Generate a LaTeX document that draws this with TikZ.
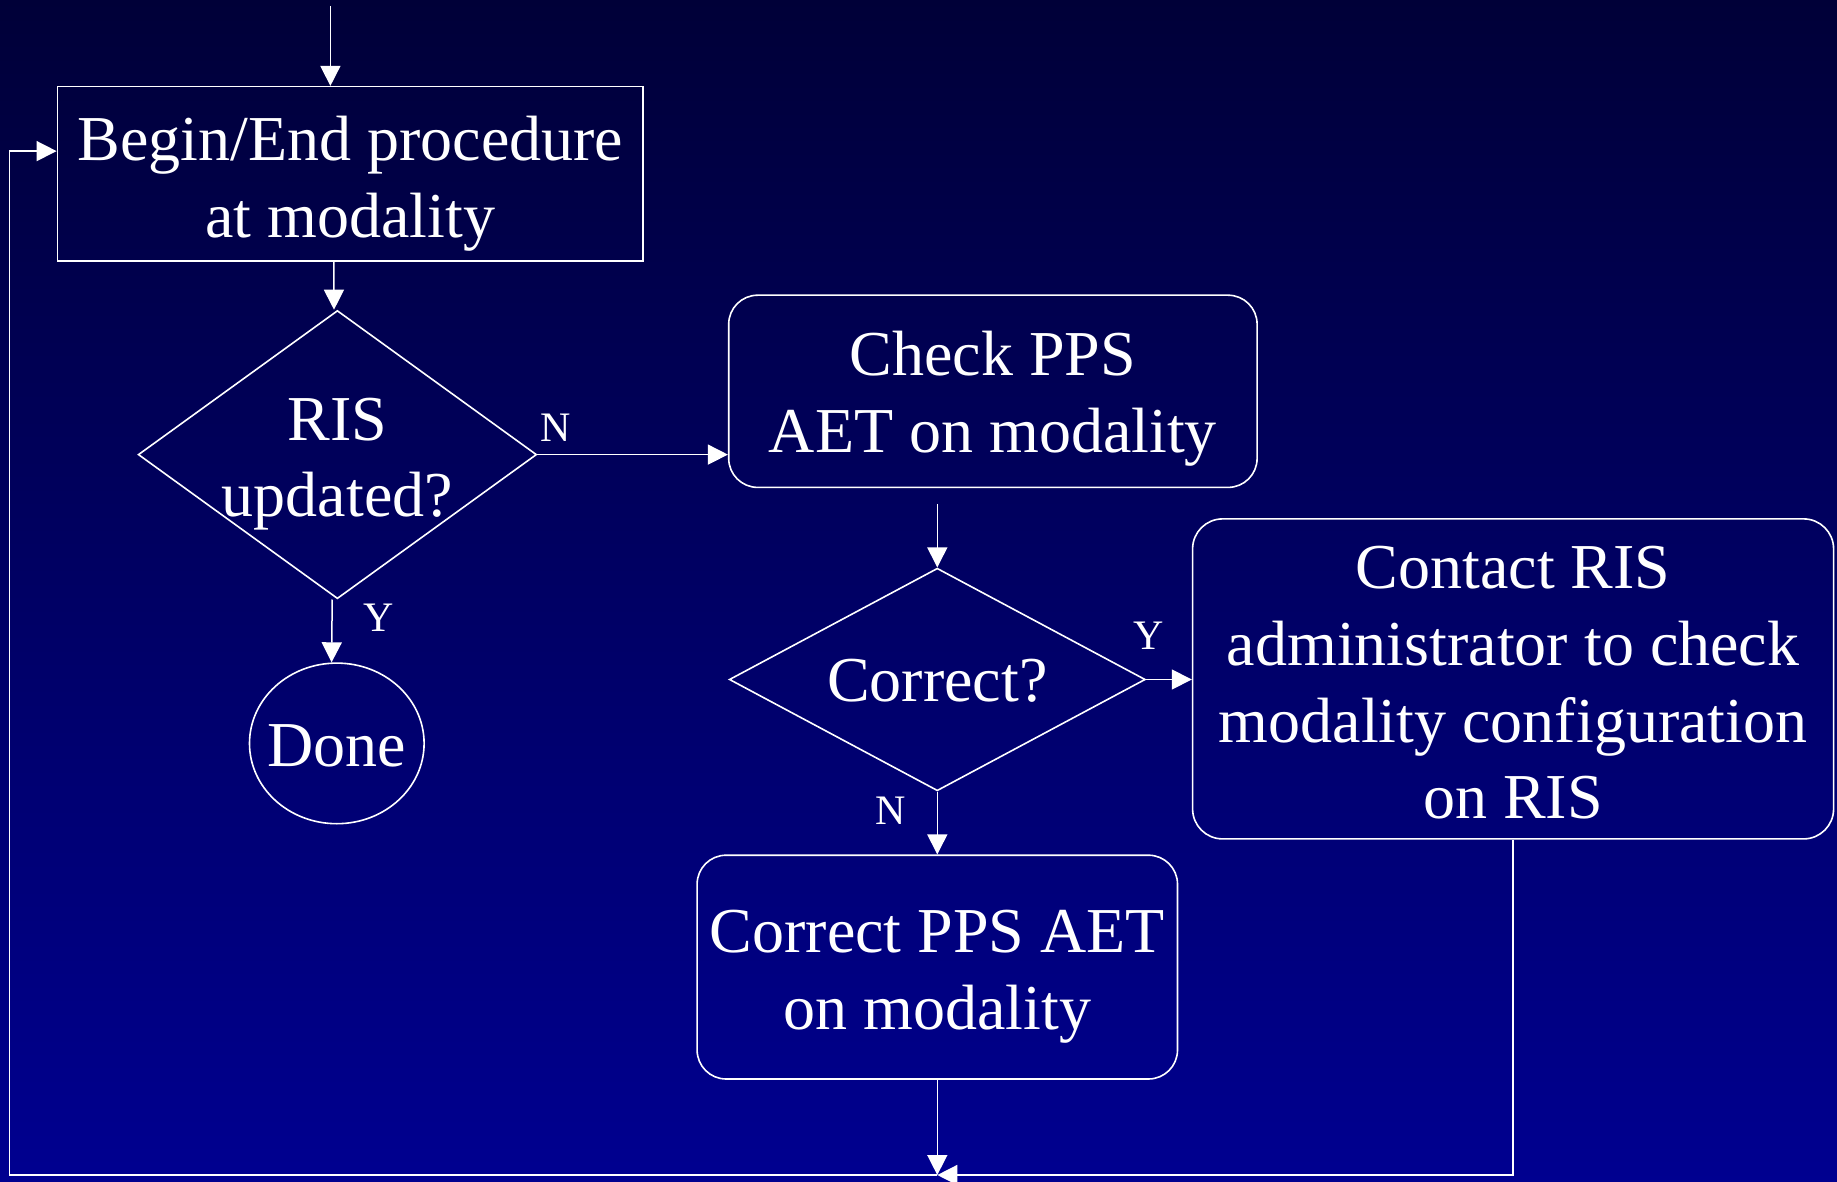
\documentclass[tikz,border=0pt]{standalone}
\usepackage{fontspec}
\setmainfont{Liberation Serif}
\usetikzlibrary{shapes.geometric,arrows.meta,calc}
\definecolor{bgtop}{RGB}{0,0,56}
\definecolor{bgbot}{RGB}{0,0,144}
\begin{document}
\begin{tikzpicture}[x=0.5pt,y=-0.5pt,
  every node/.style={text=white},
  shapeline/.style={draw=white,line width=0.8pt,inner sep=0pt},
  sqbox/.style={shapeline,rectangle},
  rbox/.style={shapeline,rectangle,rounded corners=14.5pt},
  dia/.style={shapeline,diamond},
  circ/.style={shapeline,ellipse},
  maintxt/.style={align=center,font=\fontsize{32}{38.3}\selectfont,inner sep=0pt},
  lbl/.style={font=\fontsize{21}{25}\selectfont,inner sep=0pt},
  arr/.style={draw=white,line width=0.75pt,-{Triangle[length=10pt,width=10pt]}},
  ln/.style={draw=white,line width=0.75pt}]
\fill[top color=bgtop,bottom color=bgbot] (0,0) rectangle (1837,1182);
\useasboundingbox (0,0) rectangle (1837,1182);

% nodes
\node[sqbox,minimum width=292.9pt,minimum height=87.3pt] (b1) at (350.3,174) {};
\node[maintxt] (b1t) at (350.3,184) {Begin/End procedure\\at modality};

\node[dia,minimum width=199.2pt,minimum height=144.1pt] (d1) at (337.4,454.6) {};
\node[maintxt] (d1t) at (337.4,464) {RIS\\updated?};

\node[circ,minimum width=87.3pt,minimum height=80.3pt] (done) at (336.8,743.4) {};
\node[maintxt] (donet) at (336.8,746) {Done};

\node[rbox,minimum width=264.2pt,minimum height=96.1pt] (b2) at (992.9,391.3) {};
\node[maintxt] (b2t) at (992.9,399) {Check PPS\\AET on modality};

\node[dia,minimum width=208pt,minimum height=111.3pt] (d2) at (937.3,679.5) {};
\node[maintxt] (d2t) at (937.3,681) {Correct?};

\node[rbox,minimum width=320.5pt,minimum height=160pt,rounded corners=15pt] (b3) at (1513.1,678.9) {};
\node[maintxt] (b3t) at (1513.1,683) {Contact RIS\\administrator to check\\modality configuration\\on RIS};

\node[rbox,minimum width=240.2pt,minimum height=111.9pt] (b4) at (937.3,967.1) {};
\node[maintxt] (b4t) at (937.3,977) {Correct PPS AET\\on modality};

% labels
\node[lbl] (n1) at (555.3,427.6) {N};
\node[lbl] (y1) at (378.4,617.4) {Y};
\node[lbl] (y2) at (1148.2,636.2) {Y};
\node[lbl] (n2) at (890.4,810.7) {N};

% coordinates
\coordinate (topin) at (330.4,6);
\coordinate (c2) at (937.3,503.8);
\coordinate (jn) at (937.3,1175);
\coordinate (bl) at (9.4,1175);
\coordinate (tl) at (9.4,151.1);

% connectors
\draw[arr] (topin) -- (topin |- b1.north);
\draw[arr] ([xshift=-8.2pt]b1.south) -- ([xshift=-1.7pt]d1.north);
\draw[arr] (d1.east) -- (d1.east -| b2.west);
\draw[arr] ([xshift=-2.6pt]d1.south) -- ([xshift=-2.6pt]done.north);
\draw[arr] (c2) -- (d2.north);
\draw[arr] (d2.east) -- (d2.east -| b3.west);
\draw[arr] (d2.south) -- (b4.north);
\draw[arr] (b4.south) -- (jn);
\draw[arr] (b3.south) |- (jn);
\draw[arr] (jn) -- (bl) -- (tl) -- (tl -| b1.west);
\end{tikzpicture}
\end{document}
